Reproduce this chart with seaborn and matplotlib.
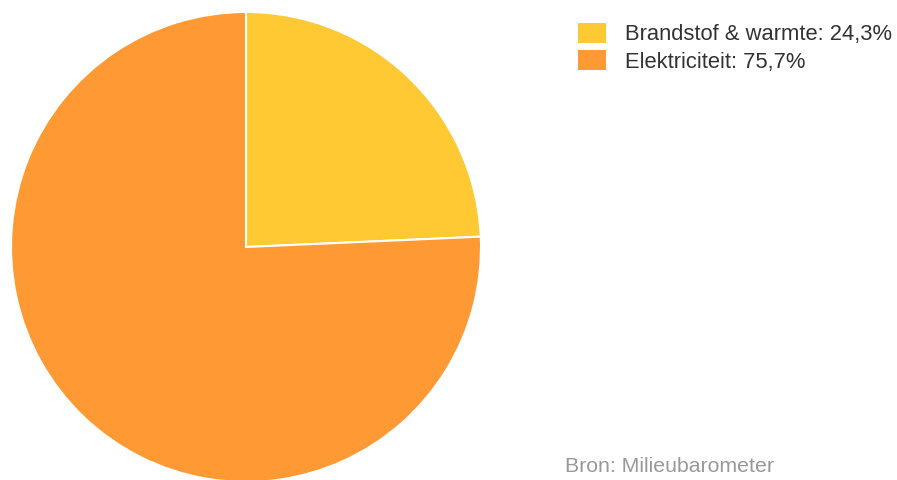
import matplotlib
matplotlib.use("Agg")
import matplotlib.pyplot as plt
import matplotlib.patches as mpatches
import seaborn as sns

categories = ["Brandstof & warmte", "Elektriciteit"]
values = [24.3, 75.7]
colors = ["#FFC933", "#FF9933"]
source = "Bron: Milieubarometer"

sns.set_theme(style="white")
plt.rcParams['font.family'] = ['Liberation Sans', 'DejaVu Sans']

W, H = 897, 480
fig = plt.figure(figsize=(W / 100, H / 100), dpi=100)
cx, cy, r = 246, 247, 235
ax = fig.add_axes([(cx - r) / W, (H - cy - r) / H, 2 * r / W, 2 * r / H])
ax.pie(values, colors=colors, startangle=90, counterclock=False, radius=1,
       wedgeprops=dict(edgecolor="white", linewidth=1.5))
ax.set_xlim(-1, 1)
ax.set_ylim(-1, 1)
ax.set_aspect("equal")
ax.axis("off")

labels = [f"{c}: {str(v).replace('.', ',')}%" for c, v in zip(categories, values)]
handles = [mpatches.Patch(facecolor=col, edgecolor="none") for col in colors]
fs = 15.8
px = fs * 100 / 72
leg = fig.legend(handles, labels, loc="upper left",
                 bbox_to_anchor=(578 / W, 1 - 23 / H), frameon=False,
                 fontsize=fs, handlelength=28 / px, handleheight=22 / px,
                 handletextpad=19 / px, labelspacing=0.22, borderpad=0,
                 borderaxespad=0)
for t in leg.get_texts():
    t.set_color("#333333")

fig.text(565 / W, 1 - 467 / H, source, fontsize=15.3, color="#999999",
         ha="left", va="center")

fig.savefig("out.png", dpi=100)
